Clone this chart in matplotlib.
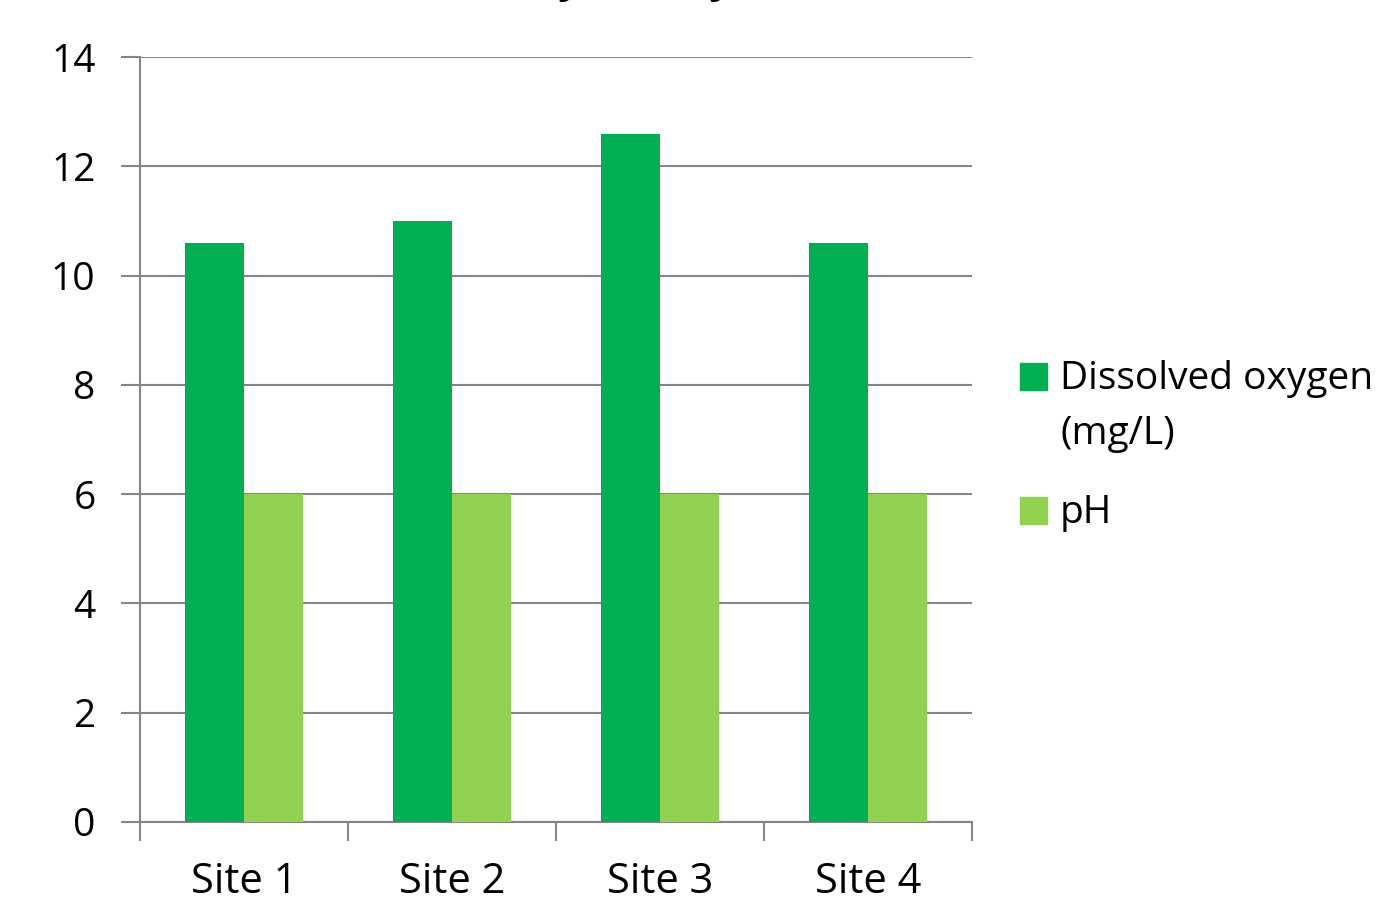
import matplotlib.pyplot as plt
from matplotlib.patches import Rectangle
import numpy as np

sites = ['Site 1', 'Site 2', 'Site 3', 'Site 4']
dissolved_oxygen = [10.6, 11.0, 12.6, 10.6]
ph = [6, 6, 6, 6]
series_names = ['Dissolved oxygen\n(mg/L)', 'pH']
series_colors = ['#00B050', '#92D050']
title = 'Water Quality Survey'

plt.rcParams['font.family'] = ['Open Sans', 'DejaVu Sans']

fig = plt.figure(figsize=(13.94, 8.98), dpi=100)
ax = fig.add_axes([140 / 1394, 1 - 822 / 898, 832 / 1394, 765 / 898])

x = np.arange(len(sites))
w = 0.2857
ax.bar(x - w / 2, dissolved_oxygen, w, color=series_colors[0], zorder=3)
ax.bar(x + w / 2, ph, w, color=series_colors[1], zorder=3)

ax.set_xlim(-0.5, len(sites) - 0.5)
ax.set_ylim(0, 14)
ax.set_yticks(range(0, 15, 2))
ax.yaxis.grid(True, color='#868686', linewidth=1.5, zorder=0)
ax.set_xticks(x)
ax.set_xticklabels(sites)
ax.tick_params(axis='x', length=0, pad=28, labelsize=30)
ax.set_xticks(np.arange(-0.5, len(sites)), minor=True)
ax.tick_params(axis='x', which='minor', length=14, width=1.5, color='#868686')
ax.tick_params(axis='y', length=14, width=1.5, color='#868686', pad=18, labelsize=28)

for s in ['top', 'right']:
    ax.spines[s].set_visible(False)
for s in ['left', 'bottom']:
    ax.spines[s].set_color('#868686')
    ax.spines[s].set_linewidth(1.5)

# legend drawn by hand so the swatch lines up with the first text line
H = 898
legend_rows = [363, 497]
for name, color, top in zip(series_names, series_colors, legend_rows):
    fig.patches.append(Rectangle((1020 / 1394, 1 - (top + 27) / H), 27 / 1394, 27 / H,
                                 transform=fig.transFigure, color=color))
    fig.text(1060 / 1394, 1 - (top - 3) / H, name, ha='left', va='top',
             fontsize=28, linespacing=1.6)

# title sits mostly above the canvas edge
fig.text(512 / 1394, 1 + 8.5 / H, title, ha='center', va='baseline',
         fontsize=30, fontweight='bold')

fig.savefig('out.png', dpi=100)
